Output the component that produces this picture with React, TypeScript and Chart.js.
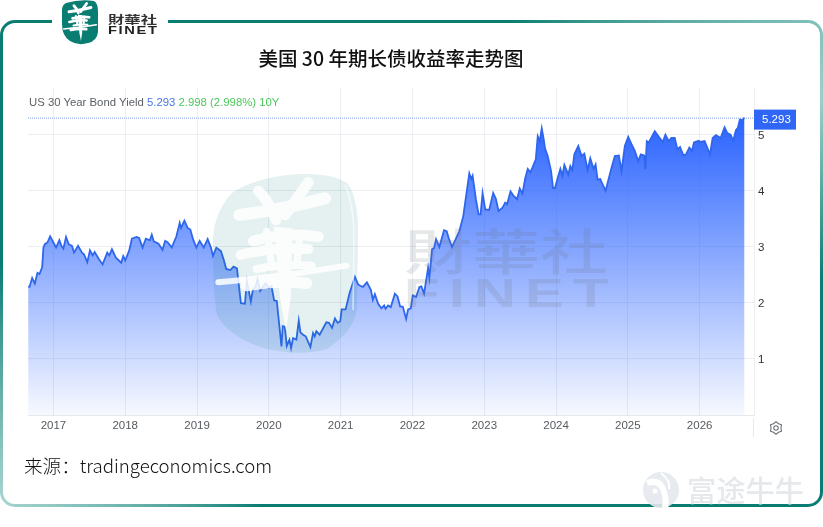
import React, { useEffect, useRef } from "react";
import { Chart, registerables } from "chart.js";

Chart.register(...registerables);

const years1 = [2016.648,2016.667,2016.704,2016.741,2016.778,2016.806,2016.843,2016.861,2016.88,2016.917,2016.954,2017,2017.037,2017.083,2017.111,2017.139,2017.176,2017.213,2017.259,2017.287,2017.343,2017.398,2017.426,2017.472,2017.509,2017.546,2017.574,2017.63,2017.685,2017.75,2017.778,2017.815,2017.87,2017.944,2017.972,2018,2018.056,2018.093,2018.157,2018.194,2018.241,2018.287,2018.343,2018.37,2018.398,2018.463,2018.519,2018.556,2018.593,2018.648,2018.713,2018.759,2018.778,2018.824,2018.87,2018.907,2018.944,2018.991,2019.037,2019.093,2019.148,2019.194,2019.222,2019.269,2019.333,2019.37,2019.407,2019.463,2019.509,2019.556,2019.611,2019.667,2019.694,2019.75,2019.778,2019.815,2019.843,2019.88,2019.917,2019.954,2020,2020.037,2020.074,2020.111,2020.176,2020.194,2020.222,2020.25,2020.287];
const values1 = [2.29,2.28,2.44,2.34,2.53,2.51,2.63,2.98,3.04,3.07,3.18,3.07,2.98,3.11,3.01,2.96,3.17,3.04,3.01,2.89,3.01,2.89,2.86,2.72,2.93,2.84,2.9,2.78,2.68,2.89,2.84,2.95,2.8,2.71,2.83,2.75,2.93,3.14,3.17,3.15,2.98,3.14,3.11,3.21,3.09,3.05,2.94,3.1,3.07,2.98,3.18,3.42,3.33,3.46,3.33,3.3,3.13,2.98,3.1,2.98,3.13,2.98,2.83,2.98,2.92,2.77,2.6,2.58,2.64,2.61,1.99,1.98,2.38,2.02,2.23,2.28,2.42,2.21,2.28,2.34,2.26,2.29,2.04,2.03,1.22,1.58,1.57,1.23,1.34];

const years2 = [2020.31,2020.338,2020.384,2020.417,2020.44,2020.477,2020.514,2020.579,2020.616,2020.639,2020.662,2020.708,2020.801,2020.838,2020.88,2020.921,2020.958,2020.995,2021.014,2021.069,2021.125,2021.199,2021.245,2021.273,2021.31,2021.366,2021.421,2021.449,2021.477,2021.523,2021.569,2021.606,2021.625,2021.662,2021.699,2021.755,2021.792,2021.829,2021.866,2021.912,2021.94,2021.977,2022.005,2022.051,2022.097,2022.125,2022.162,2022.218,2022.236,2022.273,2022.301,2022.329,2022.375,2022.44,2022.477,2022.505,2022.551,2022.653,2022.708,2022.792,2022.819,2022.838,2022.884,2022.921,2022.949,2022.977,2023.014,2023.069,2023.125,2023.162,2023.199,2023.255,2023.292,2023.319,2023.366,2023.403,2023.458,2023.495,2023.532,2023.569,2023.606,2023.644,2023.718];
const values2 = [1.19,1.37,1.34,1.68,1.47,1.43,1.4,1.21,1.46,1.4,1.49,1.43,1.65,1.64,1.55,1.72,1.64,1.67,1.88,1.88,2.17,2.46,2.32,2.3,2.28,2.36,2.23,2.05,2.15,1.98,1.9,1.95,1.89,1.95,1.92,2.16,2.11,1.93,1.93,1.71,1.88,1.9,2.13,2.1,2.28,2.29,2.16,2.62,2.44,2.95,2.97,3.13,2.99,3.29,3.27,3.15,2.99,3.27,3.54,4.3,4.2,4.26,3.84,3.57,3.57,3.95,3.66,3.65,3.95,3.85,3.63,3.69,3.78,3.75,3.98,3.91,3.84,4.03,3.94,4.2,4.38,4.32,4.55];

const years3 = [2023.745,2023.773,2023.801,2023.829,2023.847,2023.884,2023.931,2023.958,2023.986,2024.023,2024.06,2024.088,2024.116,2024.171,2024.199,2024.227,2024.255,2024.31,2024.356,2024.394,2024.44,2024.477,2024.523,2024.551,2024.579,2024.616,2024.644,2024.69,2024.736,2024.773,2024.819,2024.875,2024.912,2024.958,2025.005,2025.051,2025.097,2025.144,2025.181,2025.227,2025.245,2025.264,2025.292,2025.375,2025.431,2025.486,2025.523,2025.569,2025.606,2025.653,2025.69,2025.727,2025.773,2025.81,2025.856,2025.894,2025.921,2025.986,2026.014,2026.069,2026.116,2026.144,2026.181,2026.227,2026.292,2026.347,2026.384,2026.431,2026.468,2026.505,2026.532,2026.56,2026.597,2026.625];
const values3 = [4.96,4.875,5.1,4.9,4.74,4.61,4.34,4.04,4.04,4.22,4.38,4.26,4.45,4.28,4.43,4.36,4.64,4.79,4.61,4.65,4.36,4.57,4.38,4.46,4.19,4.2,4.12,3.99,4.22,4.4,4.61,4.62,4.34,4.79,4.95,4.82,4.7,4.52,4.64,4.62,4.38,4.875,4.85,5.05,4.95,4.86,4.99,4.875,4.93,4.93,4.73,4.77,4.62,4.64,4.76,4.7,4.85,4.88,4.86,4.875,4.73,4.64,4.93,4.98,4.93,5.12,5.02,4.99,4.88,5.07,5.11,5.26,5.25,5.293];

const yearTicks = [2017, 2018, 2019, 2020, 2021, 2022, 2023, 2024, 2025, 2026];
const valueTicks = [0, 1, 2, 3, 4, 5];
const lastLabel = "5.293";

const years = [...years1, ...years2, ...years3];
const values = [...values1, ...values2, ...values3];

const SANS = '"Liberation Sans", Arial, sans-serif';
const CJK = '"Noto Sans CJK SC", sans-serif';
const CJKTC = '"Noto Sans CJK TC", sans-serif';

const lastValuePlugin = {
  id: "lastValue",
  afterDatasetsDraw(chart: any) {
    const { ctx, chartArea, scales } = chart;
    const y = scales.y.getPixelForValue(values[values.length - 1]);
    ctx.save();
    ctx.strokeStyle = "#7f9ee8";
    ctx.lineWidth = 1;
    ctx.setLineDash([1, 1]);
    ctx.beginPath();
    ctx.moveTo(chartArea.left, y + 0.5);
    ctx.lineTo(chartArea.right, y + 0.5);
    ctx.stroke();
    ctx.setLineDash([]);
    ctx.fillStyle = "#2f66f5";
    ctx.fillRect(chartArea.right, y - 8, 42, 20);
    ctx.fillStyle = "#ffffff";
    ctx.font = `11.5px ${SANS}`;
    ctx.textBaseline = "middle";
    ctx.textAlign = "left";
    ctx.fillText(lastLabel, chartArea.right + 8, y + 2.5);
    ctx.restore();
  },
};

function abs(left: number, top: number, extra: React.CSSProperties = {}): React.CSSProperties {
  return { position: "absolute", left, top, whiteSpace: "nowrap", ...extra };
}

function HuaGlyph({ transform, opacity }: { transform: string; opacity: number }) {
  return (
    <g transform={transform} opacity={opacity} fill="none" stroke="#fff" strokeLinecap="round">
      <path d="M118 150 Q240 135 375 100" strokeWidth={36} />
      <path d="M175 78 Q205 105 228 165" strokeWidth={32} />
      <path d="M325 52 Q295 95 255 150" strokeWidth={32} />
      <path d="M160 228 Q260 200 355 215" strokeWidth={32} />
      <path d="M122 270 Q220 245 325 252" strokeWidth={30} />
      <path d="M55 352 Q250 335 440 302" strokeWidth={18} />
      <path d="M200 200 L215 300" strokeWidth={22} />
      <path d="M300 205 L290 300" strokeWidth={22} />
      <path d="M170 312 Q250 296 335 302" strokeWidth={24} />
      <path d="M140 362 Q230 345 320 355" strokeWidth={34} />
      <path d="M222 185 L278 190 L272 400 L258 495 L240 400 Z" fill="#fff" stroke="none" />
    </g>
  );
}

export default function App() {
  const ref = useRef<HTMLCanvasElement>(null);

  useEffect(() => {
    document.body.style.margin = "0";
    document.body.style.background = "#fff";
    const canvas = ref.current!;
    const chart = new Chart(canvas, {
      type: "line",
      data: {
        datasets: [
          {
            data: years.map((x, i) => ({ x, y: values[i] })),
            borderColor: "#2f66ee",
            borderWidth: 1.8,
            pointRadius: 0,
            tension: 0,
            fill: "origin",
            backgroundColor: (c: any) => {
              const { chartArea, ctx, scales } = c.chart;
              if (!chartArea) return "rgba(41,98,255,0.5)";
              const g = ctx.createLinearGradient(0, scales.y.getPixelForValue(5.3), 0, chartArea.bottom);
              g.addColorStop(0, "rgba(41,98,255,1)");
              g.addColorStop(1, "rgba(41,98,255,0.04)");
              return g;
            },
          },
        ],
      },
      options: {
        animation: false,
        responsive: false,
        layout: { padding: { left: 28, top: 88, right: 0, bottom: 0 } },
        plugins: { legend: { display: false }, tooltip: { enabled: false }, title: { display: false } },
        scales: {
          x: {
            type: "linear",
            min: 2016.646,
            max: 2026.757,
            afterBuildTicks: (s: any) => {
              s.ticks = yearTicks.map((value) => ({ value }));
            },
            afterFit: (s: any) => {
              s.height = 527 - 415;
            },
            grid: { color: "#ebeef2", drawTicks: false },
            border: { color: "#e6e8eb" },
            ticks: {
              padding: 4,
              maxRotation: 0,
              autoSkip: false,
              color: "#555a60",
              font: { family: SANS, size: 11.5 },
              callback: (v: any) => String(v),
            },
          },
          y: {
            position: "right",
            type: "linear",
            min: 0,
            max: 5.82,
            afterBuildTicks: (s: any) => {
              s.ticks = valueTicks.map((value) => ({ value }));
            },
            afterFit: (s: any) => {
              s.width = 823 - 754;
            },
            grid: { color: "#ebeef2", drawTicks: false },
            border: { display: true, color: "#ebeef2" },
            ticks: {
              padding: 4,
              labelOffset: 1.5,
              color: "#333",
              font: { family: SANS, size: 11.5 },
              callback: (v: any) => (v === 0 ? "" : String(v)),
            },
          },
        },
      },
      plugins: [lastValuePlugin],
    } as any);
    return () => chart.destroy();
  }, []);

  return (
    <div style={{ position: "relative", width: 823, height: 527, overflow: "hidden", background: "#fff" }}>
      {/* card frame */}
      <div
        style={{
          position: "absolute",
          left: 0,
          top: 20,
          width: 823,
          height: 487,
          borderRadius: 15,
          background:
            "conic-gradient(from 0deg at 50% 50%, #0a7d73 0deg, #0a7d73 22deg, #6ab3ab 52deg, #9ccfca 68deg, #0a7d73 92deg, #0a7d73 212deg, #a6d4cf 240deg, #0a7d73 270deg, #0a7d73 360deg)",
        }}
      />
      <div style={{ position: "absolute", left: 3, top: 23, width: 817, height: 481, borderRadius: 12, background: "#fff" }} />
      <div style={{ position: "absolute", left: 52, top: 15, width: 116, height: 12, background: "#fff" }} />

      <canvas ref={ref} width={823} height={527} style={{ position: "absolute", left: 0, top: 0, width: 823, height: 527 }} />

      {/* watermark */}
      <svg width={823} height={527} style={{ position: "absolute", left: 0, top: 0, pointerEvents: "none" }}>
        <path
          d="M213 240 Q214 212 232 193 Q258 176 300 174 Q335 173 348 184 Q358 198 358 232 L357 308 Q355 330 327 349 Q300 357 263 348 Q228 336 217 315 Q213 295 213 240 Z"
          fill="#0a7d73"
          opacity={0.11}
        />
        <path d="M345 185 Q354 205 354 240 L353 310" fill="none" stroke="#fff" strokeWidth={1.5} opacity={0.6} />
        <HuaGlyph transform="translate(200 165) scale(0.3333)" opacity={0.85} />
        <g transform="translate(404 270) scale(1 0.74)">
          <text x={0} y={0} fontSize={66} fontWeight={500} textLength={204} lengthAdjust="spacingAndGlyphs" fontFamily={CJKTC} fill="#6b7478" opacity={0.17}>財華社</text>
        </g>
        <g transform="translate(404 307) scale(1.45 1)">
          <text x={0} y={0} fontSize={40} fontWeight={700} textLength={141} lengthAdjust="spacing" fontFamily={SANS} fill="#6b7478" opacity={0.17}>FINET</text>
        </g>
      </svg>

      {/* header logo */}
      <svg width={170} height={50} style={{ position: "absolute", left: 0, top: 0 }}>
        <path d="M66 3 Q80 -1 94 1 Q98 3 98 12 L98 32 Q97 41 88 43 Q78 46 70 41 Q62 36 62 24 L62 10 Q62 5 66 3 Z" fill="#0a7d73" />
        <HuaGlyph transform="translate(59 -1) scale(0.085)" opacity={1} />
        <g transform="translate(108 23.5) scale(1 0.72)">
          <text x={0} y={0} fontSize={16} fontWeight={700} textLength={49} lengthAdjust="spacingAndGlyphs" fontFamily={CJKTC} fill="#333">財華社</text>
        </g>
        <g transform="translate(108 33.5) scale(1.4 1)">
          <text x={0} y={0} fontSize={10.5} fontWeight={700} textLength={35} lengthAdjust="spacing" fontFamily={SANS} fill="#222">FINET</text>
        </g>
      </svg>

      <div style={abs(0, 46, { width: 782, textAlign: "center", fontFamily: CJK, fontSize: 19.5, fontWeight: 500, lineHeight: "24px", color: "#111" })}>
        美国 30 年期长债收益率走势图
      </div>

      <div style={abs(29, 95, { fontFamily: SANS, fontSize: 11.35, lineHeight: "14px", color: "#5c6166" })}>
        US 30 Year Bond Yield <span style={{ color: "#4a76e8" }}>5.293</span>{" "}
        <span style={{ color: "#4cc85a" }}>2.998 (2.998%) 10Y</span>
      </div>

      <div style={abs(24, 453, { fontFamily: '"Noto Sans CJK SC", "Noto Sans", sans-serif', fontSize: 18.6, fontWeight: 300, lineHeight: "24px", color: "#111" })}>
        来源：tradingeconomics.com
      </div>

      {/* settings icon */}
      <svg width={70} height={34} style={{ position: "absolute", left: 753, top: 412 }}>
        <line x1={0.5} y1={6} x2={0.5} y2={25} stroke="#e6e8eb" />
        <g transform="translate(23 16)" fill="none" stroke="#6a6f75" strokeWidth={1.1} strokeLinejoin="round">
          <polygon points="0,-6.4 2.45,-4.24 5.54,-3.2 4.9,0 5.54,3.2 2.45,4.24 0,6.4 -2.45,4.24 -5.54,3.2 -4.9,0 -5.54,-3.2 -2.45,-4.24" />
          <circle r={2.2} />
        </g>
      </svg>

      {/* corner watermark */}
      <svg width={190} height={60} style={{ position: "absolute", left: 635, top: 465 }}>
        <circle cx={26} cy={25} r={18} fill="#e4e8ec" opacity={0.9} />
        <path d="M12 18 Q24 14 28 24 Q32 34 30 43" fill="none" stroke="#fff" strokeWidth={6} />
        <path d="M26 8 Q36 16 34 24" fill="none" stroke="#fff" strokeWidth={2} />
        <circle cx={20} cy={26} r={2.5} fill="#fff" />
        <text x={52} y={37} fontSize={29} fontWeight={500} textLength={117} lengthAdjust="spacingAndGlyphs" fontFamily={CJK} fill="#e6e9ec">富途牛牛</text>
      </svg>
    </div>
  );
}
